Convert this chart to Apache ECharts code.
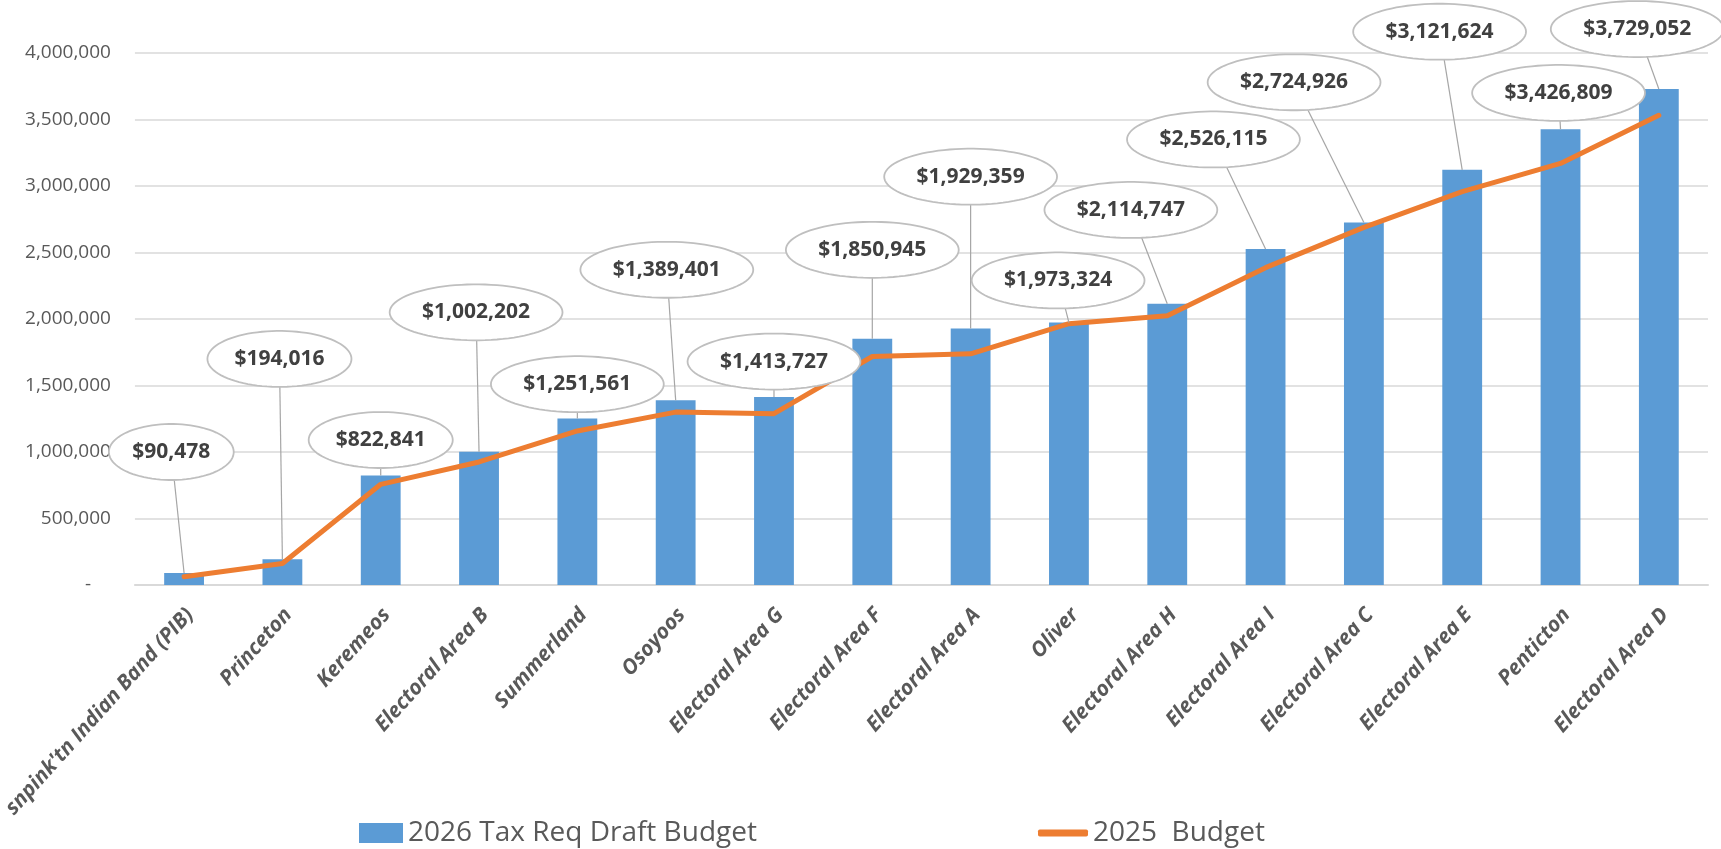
<!DOCTYPE html>
<html>
<head>
<meta charset="utf-8">
<script src="https://cdn.jsdelivr.net/npm/echarts@6/dist/echarts.min.js"></script>
<style>
  html, body { margin: 0; padding: 0; background: #ffffff; }
  #chart { width: 1721px; height: 849px; }
</style>
</head>
<body>
<div id="chart"></div>
<script>
// ---- data ----
const categories = [
  "snpink'tn Indian Band (PIB)", "Princeton", "Keremeos", "Electoral Area B",
  "Summerland", "Osoyoos", "Electoral Area G", "Electoral Area F",
  "Electoral Area A", "Oliver", "Electoral Area H", "Electoral Area I",
  "Electoral Area C", "Electoral Area E", "Penticton", "Electoral Area D"
];
const draft2026 = [90478, 194016, 822841, 1002202, 1251561, 1389401, 1413727, 1850945,
  1929359, 1973324, 2114747, 2526115, 2724926, 3121624, 3426809, 3729052];
const budget2025 = [62500, 162000, 757000, 925000, 1158000, 1300000, 1288000, 1718000,
  1738000, 1965000, 2025000, 2386000, 2689000, 2957000, 3170000, 3532000];
const yTicks = [0, 500000, 1000000, 1500000, 2000000, 2500000, 3000000, 3500000, 4000000];

// callout placement (category offset, value level of the callout centre)
const calloutDx = [-0.13, -0.03, 0, -0.03, 0, -0.09, 0, 0, 0, -0.11, -0.37, -0.53, -0.71, -0.23, -0.02, -0.22];
const calloutY = [1.00e6, 1.70e6, 1.09e6, 2.05e6, 1.51e6, 2.37e6, 1.68e6, 2.52e6,
  3.07e6, 2.29e6, 2.82e6, 3.35e6, 3.78e6, 4.16e6, 3.70e6, 4.18e6];

const FONT = '"Open Sans", "Noto Sans", sans-serif';
const fmt = v => Math.round(v).toLocaleString('en-US');

const mctx = document.createElement('canvas').getContext('2d');
function measure(text, font) { mctx.font = font; return mctx.measureText(text).width; }

const chart = echarts.init(document.getElementById('chart'), null, { renderer: 'canvas' });

function renderCallout(params, api) {
  const i = api.value(0);
  const v = api.value(1);
  const barTop = api.coord([i, v]);
  const base = api.coord([i, calloutY[i]]);
  const band = api.size([1, 0])[0];
  const cx = base[0] + calloutDx[i] * band;
  const cy = base[1];
  const text = '$' + fmt(v);
  const font = 'bold 21px ' + FONT;
  const tw = measure(text, font);
  const rx = tw * 0.8, ry = 28;
  const pts = [];
  for (let k = 0; k < 90; k++) {
    const a = k / 90 * Math.PI * 2;
    pts.push([cx + rx * Math.cos(a), cy + ry * Math.sin(a)]);
  }
  return {
    type: 'group',
    children: [
      { type: 'line', shape: { x1: cx, y1: cy, x2: barTop[0], y2: barTop[1] },
        style: { stroke: '#a6a6a6', lineWidth: 1.2 } },
      { type: 'polygon', shape: { points: pts },
        style: { fill: '#ffffff', stroke: '#bfbfbf', lineWidth: 1.8 } },
      { type: 'text', style: { text: text, x: cx, y: cy, align: 'center', verticalAlign: 'middle',
        font: font, fill: '#404040' } }
    ]
  };
}

const option = {
  animation: false,
  backgroundColor: '#ffffff',
  grid: { left: 127, right: 13, top: 53, bottom: 264, containLabel: false },
  xAxis: {
    type: 'category',
    data: categories,
    axisTick: { show: false },
    axisLine: { lineStyle: { color: '#d9d9d9', width: 2 } },
    axisLabel: {
      interval: 0, rotate: 48, margin: 21,
      verticalAlign: 'top', lineHeight: 16,
      fontSize: 21, fontWeight: 'bold', fontStyle: 'italic', fontFamily: FONT, color: '#595959'
    }
  },
  yAxis: {
    type: 'value', min: 0, max: 4000000, interval: 500000,
    axisLine: { show: false }, axisTick: { show: false },
    splitLine: { lineStyle: { color: '#d9d9d9', width: 1.5 } },
    axisLabel: {
      margin: 24, fontSize: 19, fontFamily: FONT, color: '#595959',
      formatter: v => v === 0 ? '-    ' : fmt(v)
    }
  },
  legend: [
    { data: [{ name: '2026 Tax Req Draft Budget', icon: 'rect' }], left: 359, top: 819, padding: 0,
      itemWidth: 44, itemHeight: 20,
      textStyle: { fontSize: 28, color: '#595959', fontFamily: FONT } },
    { data: [{ name: '2025  Budget', icon: 'roundRect' }], left: 1038, top: 819, padding: 0,
      itemWidth: 50, itemHeight: 7,
      textStyle: { fontSize: 28, color: '#595959', fontFamily: FONT } }
  ],
  series: [
    { name: '2026 Tax Req Draft Budget', type: 'bar', data: draft2026, barWidth: '40.5%',
      itemStyle: { color: '#5B9BD5' }, z: 2 },
    { name: '2025  Budget', type: 'line', data: budget2025, symbol: 'none', showSymbol: false,
      lineStyle: { color: '#ED7D31', width: 5, cap: 'round', join: 'round' },
      itemStyle: { color: '#ED7D31' }, z: 3 },
    { name: 'callouts', type: 'custom', clip: false, z: 10,
      data: draft2026.map((v, i) => [i, v]),
      encode: { x: 0, y: 1 },
      renderItem: renderCallout, silent: true }
  ]
};
chart.setOption(option);
</script>
</body>
</html>
